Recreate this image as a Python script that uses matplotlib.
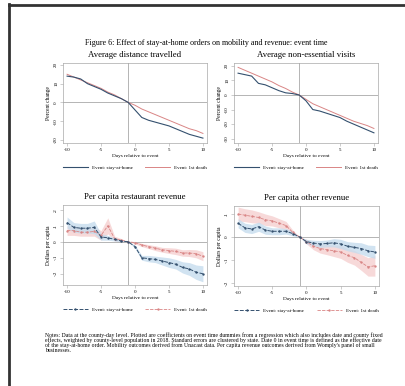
import numpy as np
import matplotlib
matplotlib.use('Agg')
import matplotlib.pyplot as plt
from matplotlib.lines import Line2D

plt.rcParams['font.family'] = ['Liberation Serif', 'DejaVu Serif']

W, H = 406, 386

days = list(range(-10, 11))

# Average distance travelled (percent change)
dist_home = [14, 13.5, 12.5, 10, 8.5, 7, 5, 3.5, 2, 0, -4, -8, -9.5, -10.5, -11.5, -12.5, -14, -15.5, -17, -18, -19]
dist_death = [15, 13.5, 12, 10.5, 9, 7.5, 5.5, 4, 2, 0, -1.5, -3.5, -5, -6.5, -8, -9.5, -11, -12.5, -14, -15, -16.5]

# Average non-essential visits (percent change)
visits_home = [15, 14, 13, 8, 7, 5, 3, 1.5, 1, 0, -4, -10, -11, -12.5, -14, -15.5, -18, -20, -22, -24, -26]
visits_death = [19, 17, 15, 13, 11, 9, 6.5, 4.5, 2, 0, -3, -6, -8, -10, -12, -14, -16, -18, -19.5, -21, -23]

# Per capita restaurant revenue (dollars per capita) with band half-widths
rest_home = [0.12, 0.09, 0.085, 0.085, 0.09, 0.03, 0.025, 0.015, 0.005, 0, -0.03, -0.1, -0.105, -0.11, -0.12, -0.13, -0.14, -0.16, -0.17, -0.19, -0.2]
rest_home_se = [0.035, 0.03, 0.03, 0.03, 0.04, 0.02, 0.015, 0.01, 0.008, 0, 0.01, 0.015, 0.02, 0.02, 0.025, 0.03, 0.03, 0.035, 0.04, 0.045, 0.05]
rest_death = [0.07, 0.07, 0.06, 0.06, 0.065, 0.04, 0.1, 0.02, 0.01, 0, -0.005, -0.02, -0.03, -0.04, -0.05, -0.055, -0.06, -0.07, -0.07, -0.075, -0.09]
rest_death_se = [0.03, 0.03, 0.025, 0.025, 0.03, 0.03, 0.05, 0.015, 0.01, 0, 0.008, 0.01, 0.012, 0.015, 0.015, 0.018, 0.02, 0.02, 0.022, 0.025, 0.028]

# Per capita other revenue (dollars per capita)
other_home = [0.06, 0.04, 0.035, 0.045, 0.03, 0.025, 0.025, 0.025, 0.015, 0, -0.02, -0.026, -0.03, -0.028, -0.025, -0.03, -0.04, -0.045, -0.05, -0.06, -0.065]
other_home_se = [0.02, 0.02, 0.02, 0.02, 0.018, 0.015, 0.015, 0.012, 0.01, 0, 0.01, 0.012, 0.015, 0.015, 0.018, 0.02, 0.02, 0.022, 0.025, 0.025, 0.028]
other_death = [0.1, 0.095, 0.09, 0.085, 0.075, 0.07, 0.06, 0.05, 0.02, 0, -0.02, -0.04, -0.05, -0.055, -0.06, -0.065, -0.08, -0.09, -0.11, -0.13, -0.125]
other_death_se = [0.03, 0.028, 0.028, 0.025, 0.025, 0.022, 0.02, 0.018, 0.01, 0, 0.01, 0.015, 0.02, 0.022, 0.025, 0.028, 0.03, 0.032, 0.035, 0.04, 0.045]

blue = '#34506e'
red = '#d98585'
blue_fill = '#c6dcee'
red_fill = '#f6d0d0'
grey = '#a8a8a8'

notes = [
    "Notes: Data at the county-day level. Plotted are coefficients on event time dummies from a regression which also includes date and county fixed",
    "effects, weighted by county-level population in 2018. Standard errors are clustered by state. Date 0 in event time is defined as the effective date",
    "of the stay-at-home order. Mobility outcomes derived from Unacast data. Per capita revenue outcomes derived from Womply's panel of small",
    "businesses.",
]


def box(left, right, top, bottom):
    return [left / W, 1 - bottom / H, (right - left) / W, (bottom - top) / H]


def setup(ax, title, ylab, ylim, yticks, ylabels):
    ax.set_xlim(-10.6, 10.6)
    ax.set_ylim(*ylim)
    ax.set_xticks([-10, -5, 0, 5, 10])
    ax.set_xticklabels(['-10', '-5', '0', '5', '10'], fontsize=3.6)
    ax.set_yticks(yticks)
    ax.set_yticklabels(ylabels, fontsize=3.6, rotation=90, va='center')
    ax.tick_params(length=2, width=0.4, pad=1.5, color=grey)
    for s in ax.spines.values():
        s.set_color(grey)
        s.set_linewidth(0.5)
    ax.axhline(0, color=grey, lw=0.6, zorder=1)
    ax.axvline(-1, color=grey, lw=0.6, zorder=1)
    ax.set_title(title, fontsize=6.3, pad=4)
    ax.set_ylabel(ylab, fontsize=4, labelpad=2)
    ax.set_xlabel('Days relative to event', fontsize=3.8, labelpad=1.5)
    ax.legend(loc='upper center', bbox_to_anchor=(0.5, -0.22), ncol=2, frameon=False,
              fontsize=3.6, handlelength=5, columnspacing=2.5)


fig = plt.figure(figsize=(W / 100, H / 100), dpi=100)

fig.add_artist(Line2D([9 / W, 9 / W], [0, 1 - 4 / H], color='#333333', lw=2))
fig.add_artist(Line2D([9 / W, 1], [1 - 5 / H, 1 - 5 / H], color='#333333', lw=2))

fig.text(206 / W, 1 - 43 / H, 'Figure 6: Effect of stay-at-home orders on mobility and revenue: event time',
         ha='center', va='center', fontsize=5.8)

# top left
ax1 = fig.add_axes(box(63, 207, 63, 143))
ax1.plot(days, dist_home, color=blue, lw=0.8, label='Event: stay-at-home', zorder=3)
ax1.plot(days, dist_death, color=red, lw=0.7, label='Event: 1st death', zorder=2)
setup(ax1, 'Average distance travelled', 'Percent change', (-21.6, 21),
      [20, 10, 0, -10, -20], ['20', '10', '0', '-10', '-20'])

# top right
ax2 = fig.add_axes(box(234, 378, 63, 143))
ax2.plot(days, visits_home, color=blue, lw=0.8, label='Event: stay-at-home', zorder=3)
ax2.plot(days, visits_death, color=red, lw=0.7, label='Event: 1st death', zorder=2)
setup(ax2, 'Average non-essential visits', 'Percent change', (-33, 22),
      [20, 10, 0, -10, -20, -30], ['20', '10', '0', '-10', '-20', '-30'])

# bottom left
ax3 = fig.add_axes(box(63, 207, 205, 285))
rh, rhs = np.array(rest_home), np.array(rest_home_se)
rd, rds = np.array(rest_death), np.array(rest_death_se)
ax3.fill_between(days, rd - rds, rd + rds, color=red_fill, alpha=0.8, lw=0)
ax3.fill_between(days, rh - rhs, rh + rhs, color=blue_fill, alpha=0.8, lw=0)
ax3.plot(days, rh, color=blue, lw=0.7, marker='o', ms=0.7, dashes=(4, 1.5), label='Event: stay-at-home', zorder=3)
ax3.plot(days, rd, color=red, lw=0.6, marker='o', ms=0.7, dashes=(4, 1.5), label='Event: 1st death', zorder=2)
setup(ax3, 'Per capita restaurant revenue', 'Dollars per capita', (-0.27, 0.23),
      [0.2, 0.1, 0, -0.1, -0.2], ['.2', '.1', '0', '-.1', '-.2'])

# bottom right
ax4 = fig.add_axes(box(234, 379, 206, 286))
oh, ohs = np.array(other_home), np.array(other_home_se)
od, ods = np.array(other_death), np.array(other_death_se)
ax4.fill_between(days, od - ods, od + ods, color=red_fill, alpha=0.8, lw=0)
ax4.fill_between(days, oh - ohs, oh + ohs, color=blue_fill, alpha=0.8, lw=0)
ax4.plot(days, oh, color=blue, lw=0.7, marker='o', ms=0.7, dashes=(4, 1.5), label='Event: stay-at-home', zorder=3)
ax4.plot(days, od, color=red, lw=0.6, marker='o', ms=0.7, dashes=(4, 1.5), label='Event: 1st death', zorder=2)
setup(ax4, 'Per capita other revenue', 'Dollars per capita', (-0.213, 0.135),
      [0.1, 0, -0.1, -0.2], ['.1', '0', '-.1', '-.2'])

for i, line in enumerate(notes):
    fig.text(45 / W, 1 - (335 + i * 5.2) / H, line, ha='left', va='center', fontsize=4.15)

fig.savefig('out.png', dpi=100, facecolor='white')
